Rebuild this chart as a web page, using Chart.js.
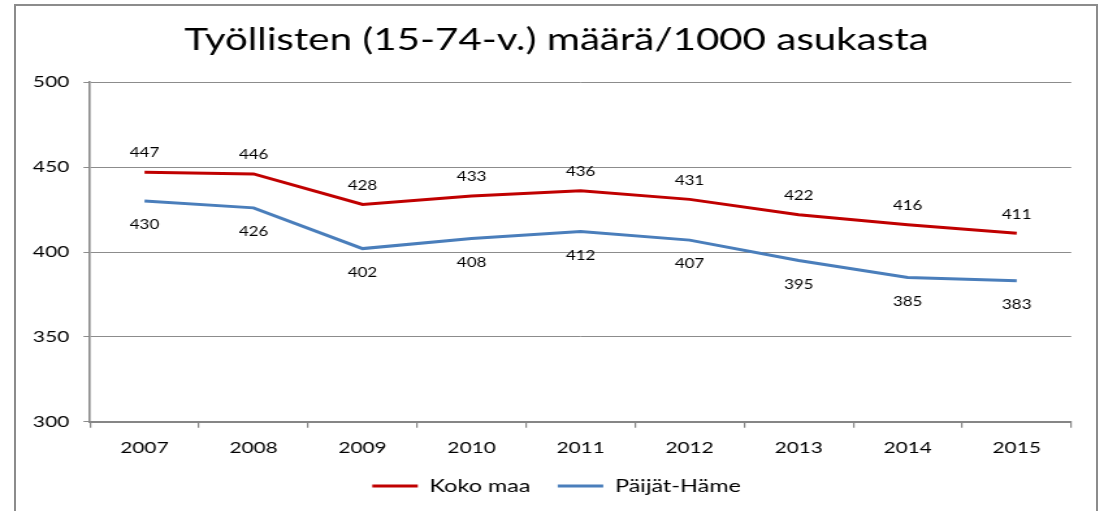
<!DOCTYPE html>
<html>
<head>
<meta charset="utf-8">
<script src="https://cdn.jsdelivr.net/npm/chart.js@4/dist/chart.umd.min.js"></script>
<style>
  html, body { margin: 0; padding: 0; background: #fff; overflow: hidden; }
  #wrap { position: relative; width: 1104px; height: 511px; }
  #frame { position: absolute; left: 14px; top: 4px; width: 1084px; height: 530px;
           border: 2px solid #8c8c8c; box-sizing: border-box; pointer-events: none; }
  #chart { position: absolute; left: 0; top: 0; }
</style>
</head>
<body>
<div id="wrap">
  <!-- the original picture is stretched sideways, so the canvas is drawn narrow and widened by css -->
  <canvas id="chart" width="849" height="511" style="width:1104px;height:511px"></canvas>
  <div id="frame"></div>
</div>
<script>
const years = ['2007', '2008', '2009', '2010', '2011', '2012', '2013', '2014', '2015'];
const kokoMaa = [447, 446, 428, 433, 436, 431, 422, 416, 411];
const paijatHame = [430, 426, 402, 408, 412, 407, 395, 385, 383];
const yTicks = [300, 350, 400, 450, 500];

const FONT = 'Lato';

// value labels: above the red line, below the blue one
const valueLabels = {
    id: 'valueLabels',
    afterDatasetsDraw(chart) {
        const ctx = chart.ctx;
        ctx.save();
        ctx.font = '13px ' + FONT;
        ctx.fillStyle = '#000';
        ctx.textAlign = 'center';
        ctx.textBaseline = 'middle';
        chart.data.datasets.forEach((ds, i) => {
            const meta = chart.getDatasetMeta(i);
            const shift = i === 0 ? -19 : 24;
            meta.data.forEach((pt, j) => {
                ctx.fillText(String(ds.data[j]), pt.x, pt.y + shift);
            });
        });
        ctx.restore();
    }
};

new Chart(document.getElementById('chart'), {
    type: 'line',
    data: {
        labels: years,
        datasets: [{
            label: 'Koko maa',
            data: kokoMaa,
            borderColor: '#C00000',
            backgroundColor: '#C00000',
            borderWidth: 3,
            pointRadius: 0,
            tension: 0
        }, {
            label: 'Päijät-Häme',
            data: paijatHame,
            borderColor: '#4A7EBB',
            backgroundColor: '#4A7EBB',
            borderWidth: 3,
            pointRadius: 0,
            tension: 0
        }]
    },
    options: {
        responsive: false,
        devicePixelRatio: 1,
        animation: false,
        layout: { padding: { left: 17, right: 10, top: 0, bottom: 6 } },
        plugins: {
            title: {
                display: true,
                text: 'Työllisten (15-74-v.) määrä/1000 asukasta',
                color: '#000',
                font: { family: FONT, size: 31, weight: 'normal' },
                padding: { top: 21, bottom: 24 }
            },
            legend: {
                position: 'bottom',
                labels: {
                    color: '#000',
                    font: { family: FONT, size: 18 },
                    boxWidth: 35,
                    boxHeight: 3,
                    padding: 21,
                    generateLabels(chart) {
                        return chart.data.datasets.map((ds, i) => ({
                            text: ds.label,
                            fillStyle: ds.borderColor,
                            strokeStyle: ds.borderColor,
                            lineWidth: 0,
                            datasetIndex: i
                        }));
                    }
                }
            },
            tooltip: { enabled: false }
        },
        scales: {
            x: {
                offset: true,
                afterFit(scale) { scale.height -= 11; },
                grid: { offset: true, drawOnChartArea: false, tickLength: 6, color: '#868686', lineWidth: 1.2 },
                border: { color: '#868686', width: 2 },
                ticks: { color: '#000', font: { family: FONT, size: 16 }, padding: 10, maxRotation: 0 }
            },
            y: {
                min: yTicks[0],
                max: yTicks[yTicks.length - 1],
                afterBuildTicks(scale) { scale.ticks = yTicks.map(v => ({ value: v })); },
                afterFit(scale) { scale.width = 52.2; },
                grid: { color: '#8c8c8c', lineWidth: 1, tickLength: 5 },
                border: { color: '#868686', width: 1.6 },
                ticks: { color: '#000', font: { family: FONT, size: 16 }, padding: 11 }
            },
            // empty strip on the right so the title and legend sit where they do in the original
            spacer: {
                position: 'right',
                afterFit(scale) { scale.width = 15.2; },
                grid: { display: false },
                border: { display: false },
                ticks: { display: false }
            }
        }
    },
    plugins: [valueLabels]
});
</script>
</body>
</html>
